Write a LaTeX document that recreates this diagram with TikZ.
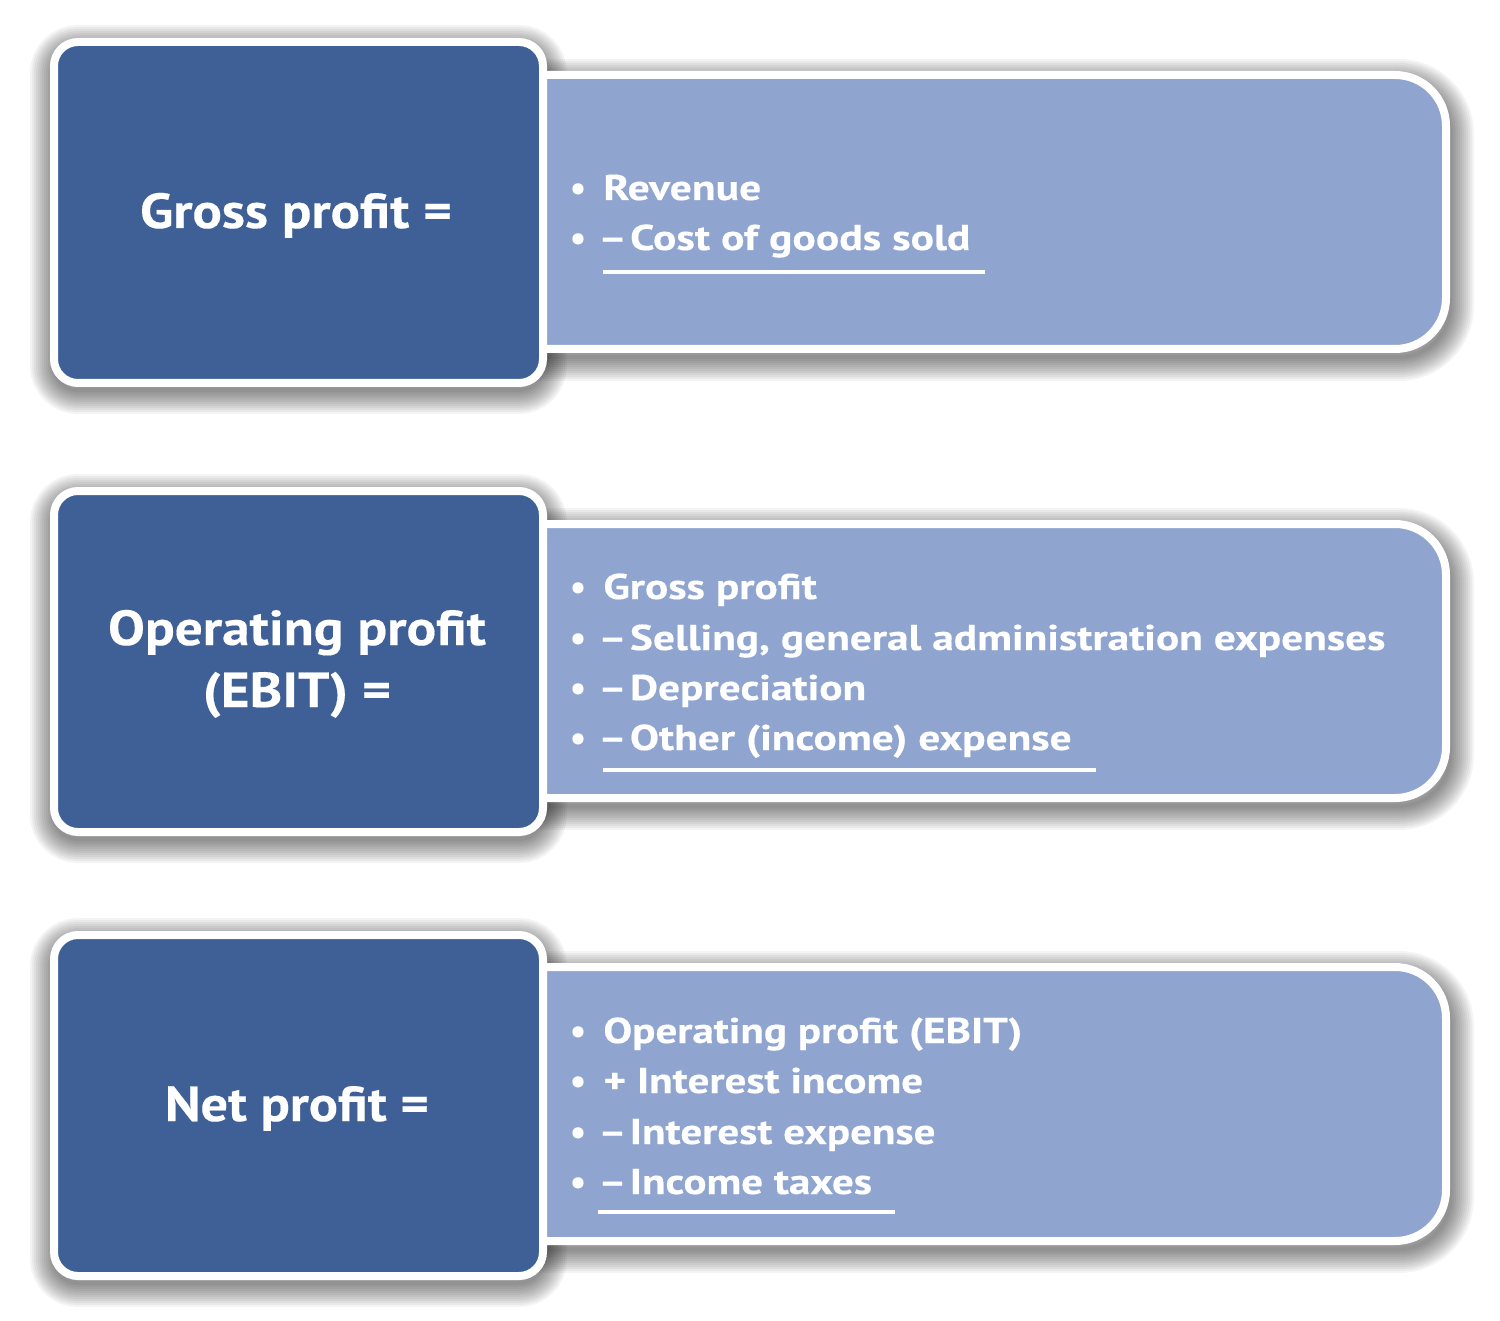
\documentclass[tikz,border=0pt]{standalone}
\usepackage{fontspec}
\setmainfont{PT Sans}[BoldFeatures={FakeBold=0.3}]
\usepackage{graphicx}
\definecolor{darkblue}{HTML}{3E6096}
\definecolor{lightblue}{HTML}{8FA5CF}
\newlength\mylen
\newcommand\rfont{\bfseries\fontsize{17.9}{25}\selectfont}
\newcommand\lfont{\bfseries\fontsize{24.6}{31}\selectfont}
\newcommand\mn{\kern-0.12em–\kern-0.18em}
\newcommand\fitfactor[3]{\settowidth\mylen{#2}\pgfmathsetmacro#1{#3/\mylen}}
\newcommand\lightpath[2]{(520,#1) -- (1395,#1) arc[start angle=-90,end angle=0,radius=51] -- (1446,{#2-51}) arc[start angle=0,end angle=90,radius=51] -- (520,#2) -- cycle}
\tikzset{
  darkbox/.style={fill=darkblue, draw=white, line width=4pt, rounded corners=12pt},
  lightbox/.style={fill=lightblue, draw=white, line width=4pt},
  lefttext/.style={text=white, font=\lfont, inner sep=0pt, anchor=base},
  righttext/.style={text=white, font=\rfont, inner sep=0pt, anchor=base west},
  bulletmark/.style={text=white, font=\rfont, inner sep=0pt, anchor=base},
  rulestyle/.style={draw=white, line width=2pt},
}
\newcommand\darkshadow[1]{%
  \foreach \k in {1,...,12}{\pgfmathsetmacro\lw{\k*2}
    \draw[black, draw opacity=0.045, line width=\lw pt, rounded corners=12pt] (54,{#1+11}) rectangle (543,{#1+352});}}
\newcommand\lightshadow[2]{%
  \foreach \k in {1,...,12}{\pgfmathsetmacro\lw{\k*2}
    \draw[black, draw opacity=0.045, line width=\lw pt, shift={(4,8)}] \lightpath{#1}{#2};}}
\begin{document}
\fitfactor\fA{\rfont \mn{} Cost of goods sold}{183.5}%
\fitfactor\fB{\rfont \mn{} Selling, general administration expenses}{391}%
\fitfactor\fC{\rfont Operating profit (EBIT)}{209.5}%
\fitfactor\gA{\lfont Gross profit =}{156}%
\fitfactor\gB{\lfont Operating profit}{189}%
\fitfactor\gC{\lfont Net profit =}{132}%
\begin{tikzpicture}[x=0.5pt, y=-0.5pt]
\fill[white] (0,0) rectangle (1500,1321);
\useasboundingbox (0,0) rectangle (1500,1321);
% ---------- box 1 ----------
\darkshadow{38}
\lightshadow{75}{349}
\draw[lightbox] \lightpath{75}{349};
\draw[darkbox] (54,42) rectangle (543,383);
% ---------- box 2 ----------
\darkshadow{487}
\lightshadow{524}{798}
\draw[lightbox] \lightpath{524}{798};
\draw[darkbox] (54,491) rectangle (543,832);
% ---------- box 3 ----------
\darkshadow{931}
\lightshadow{967}{1241}
\draw[lightbox] \lightpath{967}{1241};
\draw[darkbox] (54,935) rectangle (543,1276);
% ---------- left texts ----------
\node[lefttext] (gross) at (296,228) {\scalebox{\gA}[1]{Gross profit =}};
\node[lefttext] (oper1) at (297,645) {\scalebox{\gB}[1]{Operating profit}};
\node[lefttext] (oper2) at (297,707) {\scalebox{\gB}[1]{(EBIT) =}};
\node[lefttext] (net) at (297,1121) {\scalebox{\gC}[1]{Net profit =}};
% ---------- right texts box 1 ----------
\node[bulletmark] (b11) at (578,200) {•};
\node[bulletmark] (b12) at (578,250) {•};
\node[righttext] (t11) at (603,200) {\scalebox{\fA}[1]{Revenue}};
\node[righttext] (t12) at (603,250) {\scalebox{\fA}[1]{\mn{} Cost of goods sold}};
\coordinate (u1a) at (603,272); \coordinate (u1b) at (985,272);
\draw[rulestyle] (u1a) -- (u1b);
% ---------- right texts box 2 ----------
\node[bulletmark] (b21) at (578,599) {•};
\node[bulletmark] (b22) at (578,650) {•};
\node[bulletmark] (b23) at (578,700) {•};
\node[bulletmark] (b24) at (578,750) {•};
\node[righttext] (t21) at (603,599) {\scalebox{\fB}[1]{Gross profit}};
\node[righttext] (t22) at (603,650) {\scalebox{\fB}[1]{\mn{} Selling, general administration expenses}};
\node[righttext] (t23) at (603,700) {\scalebox{\fB}[1]{\mn{} Depreciation}};
\node[righttext] (t24) at (603,750) {\scalebox{\fB}[1]{\mn{} Other (income) expense}};
\coordinate (u2a) at (603,770); \coordinate (u2b) at (1096,770);
\draw[rulestyle] (u2a) -- (u2b);
% ---------- right texts box 3 ----------
\node[bulletmark] (b31) at (578,1043) {•};
\node[bulletmark] (b32) at (578,1093) {•};
\node[bulletmark] (b33) at (578,1144) {•};
\node[bulletmark] (b34) at (578,1194) {•};
\node[righttext] (t31) at (603,1043) {\scalebox{\fC}[1]{Operating profit (EBIT)}};
\node[righttext] (t32) at (603,1093) {\scalebox{\fC}[1]{+ Interest income}};
\node[righttext] (t33) at (603,1144) {\scalebox{\fC}[1]{\mn{} Interest expense}};
\node[righttext] (t34) at (603,1194) {\scalebox{\fC}[1]{\mn{} Income taxes}};
\coordinate (u3a) at (598,1212); \coordinate (u3b) at (895,1212);
\draw[rulestyle] (u3a) -- (u3b);
\end{tikzpicture}
\end{document}
